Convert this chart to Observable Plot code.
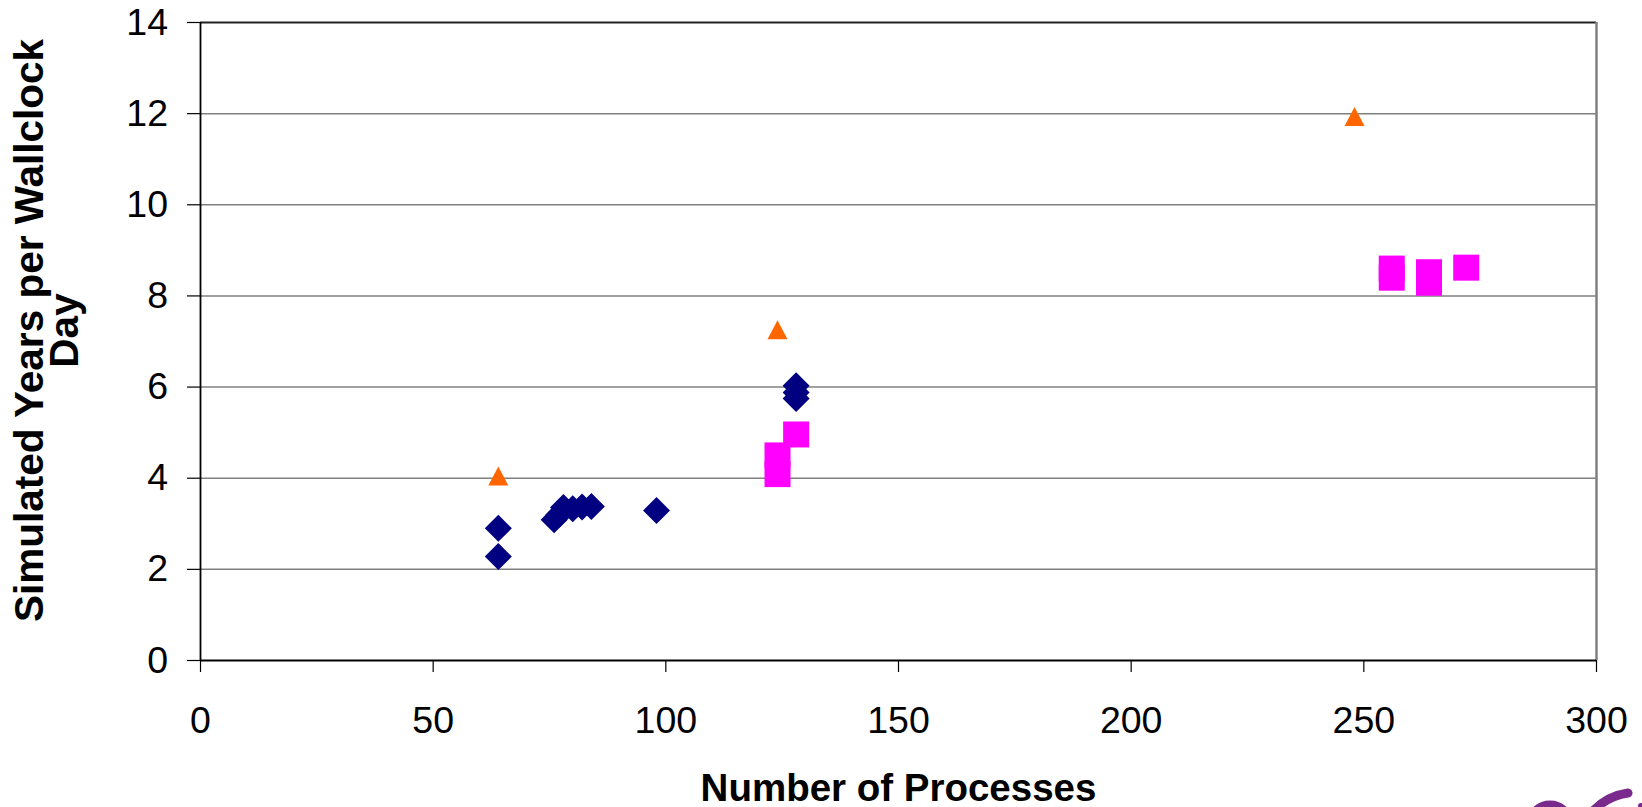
<!DOCTYPE html>
<html>
<head>
<meta charset="utf-8">
<script src="https://cdn.jsdelivr.net/npm/d3@7"></script>
<script src="https://cdn.jsdelivr.net/npm/@observablehq/plot@0.6"></script>
<style>
  html, body { margin: 0; padding: 0; background: #fff; overflow: hidden; }
  #wrap { position: relative; width: 1642px; height: 807px; }
  #logo { position: absolute; left: 0; top: 0; pointer-events: none; }
</style>
</head>
<body>
<div id="wrap"></div>
<script>
// ---- Data ----
const diamondX = [64, 64, 76, 77, 78, 80, 82, 84, 98, 128, 128, 128];
const diamondY = [2.9, 2.28, 3.09, 3.2, 3.36, 3.33, 3.37, 3.38, 3.29, 6.03, 5.88, 5.75];

const squareX = [124, 124, 128, 256, 256, 264, 264, 272];
const squareY = [4.5, 4.09, 4.96, 8.6, 8.4, 8.52, 8.29, 8.62];

const triangleX = [64, 124, 248];
const triangleY = [4.05, 7.26, 11.94];

const xTicks = [0, 50, 100, 150, 200, 250, 300];
const yTicks = [0, 2, 4, 6, 8, 10, 12, 14];

const xTitle = "Number of Processes";
const yTitle = "Simulated Years per Wallclock\nDay";

// ---- Build tables ----
const toRows = (xs, ys) => xs.map((x, i) => ({x, y: ys[i]}));
const diamonds = toRows(diamondX, diamondY);
const squares = toRows(squareX, squareY);
const triangles = toRows(triangleX, triangleY);

// Excel-like marker shapes (centered on their bounding box)
const diamondSym = {draw(ctx) { const h = 13.5; ctx.moveTo(0, -h); ctx.lineTo(h, 0); ctx.lineTo(0, h); ctx.lineTo(-h, 0); ctx.closePath(); }};
const squareSym = {draw(ctx) { ctx.moveTo(-13, -13); ctx.lineTo(13, -13); ctx.lineTo(13, 13); ctx.lineTo(-13, 13); ctx.closePath(); }};
const triangleSym = {draw(ctx) { const w = 10, h = 9.5; ctx.moveTo(0, -h); ctx.lineTo(w, h); ctx.lineTo(-w, h); ctx.closePath(); }};

const chart = Plot.plot({
  width: 1642,
  height: 807,
  marginLeft: 200,
  marginRight: 46,
  marginTop: 22,
  marginBottom: 147,
  style: {fontFamily: "'Liberation Sans', Arial, sans-serif", fontSize: "37.5px", background: "#fff", color: "#000"},
  x: {domain: [0, 300]},
  y: {domain: [0, 14]},
  marks: [
    Plot.ruleY(yTicks.filter(d => d > 0 && d < 14), {stroke: "#808080", strokeWidth: 1.5}),
    Plot.ruleY([14], {stroke: "#202020", strokeWidth: 2}),
    Plot.ruleX([300], {stroke: "#808080", strokeWidth: 2.5}),
    Plot.dot(diamonds, {x: "x", y: "y", symbol: diamondSym, fill: "#000080", stroke: "none"}),
    Plot.dot(squares, {x: "x", y: "y", symbol: squareSym, fill: "#FF00FF", stroke: "none"}),
    Plot.dot(triangles, {x: "x", y: "y", symbol: triangleSym, fill: "#FF6600", stroke: "none"}),
    Plot.ruleY([0], {stroke: "#000", strokeWidth: 2}),
    Plot.ruleX([0], {stroke: "#000", strokeWidth: 1.8}),
    Plot.axisX({ticks: xTicks, tickSize: 12, tickPadding: 34, tickFormat: d => String(d), stroke: "#000", strokeWidth: 1.2, label: null, fill: "#000"}),
    Plot.axisY({ticks: yTicks, tickSize: 13, tickPadding: 19.5, tickFormat: d => String(d), stroke: "#000", strokeWidth: 1.2, label: null, fill: "#000"}),
    Plot.text([xTitle], {frameAnchor: "bottom", lineAnchor: "bottom", dy: 140, fontWeight: "bold", fontSize: 38.5, fill: "#000"}),
    Plot.text([yTitle], {frameAnchor: "left", textAnchor: "middle", lineAnchor: "middle", rotate: -90, dx: -151, dy: -11, lineHeight: 0.87, fontWeight: "bold", fontSize: 40.5, fill: "#000"})
  ]
});

document.getElementById("wrap").appendChild(chart);

// partial logo fragment at the bottom-right corner of the slide
const ns = "http://www.w3.org/2000/svg";
const logo = document.createElementNS(ns, "svg");
logo.setAttribute("id", "logo");
logo.setAttribute("width", 1642);
logo.setAttribute("height", 807);
logo.innerHTML = `
  <ellipse cx="1550" cy="821" rx="18" ry="16" fill="none" stroke="#7a2a8c" stroke-width="9"/>
  <path d="M1592 812 Q1607 796 1628 793" fill="none" stroke="#7a2a8c" stroke-width="9" stroke-linecap="round"/>
  <circle cx="1641" cy="806" r="3" fill="#7a2a8c"/>`;
document.getElementById("wrap").appendChild(logo);
</script>
</body>
</html>
